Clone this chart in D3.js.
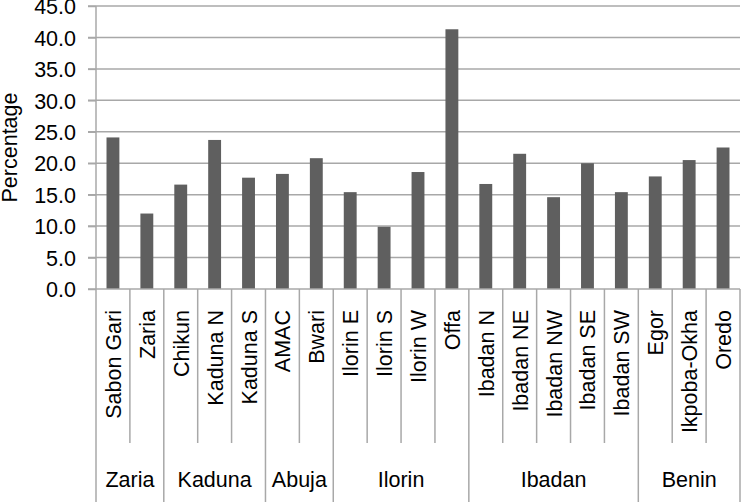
<!DOCTYPE html>
<html>
<head>
<meta charset="utf-8">
<script src="https://cdn.jsdelivr.net/npm/d3@7"></script>
<style>
  html, body { margin: 0; padding: 0; background: #fff; }
  svg { display: block; font-family: "Liberation Sans", Arial, sans-serif; }
</style>
</head>
<body>
<svg id="chart" width="744" height="502"></svg>
<script>
const categories = ["Sabon Gari","Zaria","Chikun","Kaduna N","Kaduna S","AMAC","Bwari","Ilorin E","Ilorin S","Ilorin W","Offa","Ibadan N","Ibadan NE","Ibadan NW","Ibadan SE","Ibadan SW","Egor","Ikpoba-Okha","Oredo"];
const values = [24.1,12.0,16.6,23.7,17.7,18.3,20.8,15.4,9.9,18.6,41.3,16.7,21.5,14.6,20.0,15.4,17.9,20.5,22.5];
const groups = ["Zaria","Kaduna","Abuja","Ilorin","Ibadan","Benin"];
const groupSizes = [2,3,2,4,5,3];
const yTicks = [0,5,10,15,20,25,30,35,40,45];
const yTitle = "Percentage";

const svg = d3.select("#chart");
const pLeft = 96, pRight = 740, pTop = 6, pBottom = 289;
const gridColor = "#a8a8a8", barColor = "#5f5f5f", fs = 21.5;

const x = d3.scaleBand().domain(categories).range([pLeft, pRight]).paddingInner(0.62).paddingOuter(0.31);
const y = d3.scaleLinear().domain([0, 45]).range([pBottom, pTop]);

// gridlines
svg.append("g").selectAll("line").data(yTicks.filter(t => t > 0)).join("line")
  .attr("x1", pLeft - 8).attr("x2", pRight).attr("y1", d => y(d)).attr("y2", d => y(d))
  .attr("stroke", gridColor).attr("stroke-width", 1.5);

// y axis
const yAxis = d3.axisLeft(y).tickValues(yTicks).tickFormat(d3.format(".1f")).tickSize(8).tickPadding(12);
const gy = svg.append("g").attr("transform", `translate(${pLeft},0)`).call(yAxis);
gy.select(".domain").attr("stroke", gridColor).attr("stroke-width", 1.5).attr("d", `M0,${pTop}V${pBottom}`);
gy.selectAll(".tick line").attr("stroke", gridColor).attr("stroke-width", 1.5);
gy.selectAll(".tick text").attr("font-size", fs).attr("fill", "#000").attr("font-family", "Liberation Sans, Arial, sans-serif").attr("dy", "0.36em");

// bars
svg.append("g").selectAll("rect").data(values).join("rect")
  .attr("x", (d, i) => x(categories[i])).attr("width", x.bandwidth())
  .attr("y", d => y(d)).attr("height", d => y(0) - y(d))
  .attr("fill", barColor);

// x axis baseline
svg.append("line").attr("x1", pLeft - 8).attr("x2", pRight).attr("y1", pBottom).attr("y2", pBottom)
  .attr("stroke", gridColor).attr("stroke-width", 1.5);

// separators
const step = x.step();
const boundaries = [0];
let acc = 0;
groupSizes.forEach(s => { acc += s; boundaries.push(acc); });
for (let i = 0; i <= categories.length; i++) {
  const xx = pLeft + i * step;
  const isGroup = boundaries.includes(i);
  svg.append("line").attr("x1", xx).attr("x2", xx).attr("y1", pBottom).attr("y2", isGroup ? 502 : 443)
    .attr("stroke", gridColor).attr("stroke-width", 1.5);
}

// category labels
svg.append("g").selectAll("text").data(categories).join("text")
  .attr("transform", d => `translate(${x(d) + x.bandwidth() / 2 + 8},310) rotate(-90)`)
  .attr("text-anchor", "end").attr("font-size", fs).attr("fill", "#000").text(d => d);

// group labels
groups.forEach((g, i) => {
  const cx = pLeft + (boundaries[i] + boundaries[i + 1]) / 2 * step;
  svg.append("text").attr("x", cx).attr("y", 487).attr("text-anchor", "middle")
    .attr("font-size", fs).attr("fill", "#000").text(g);
});

// y title
svg.append("text").attr("transform", `translate(17,${(pTop + pBottom) / 2}) rotate(-90)`)
  .attr("text-anchor", "middle").attr("font-size", fs).attr("fill", "#000").text(yTitle);
</script>
</body>
</html>
